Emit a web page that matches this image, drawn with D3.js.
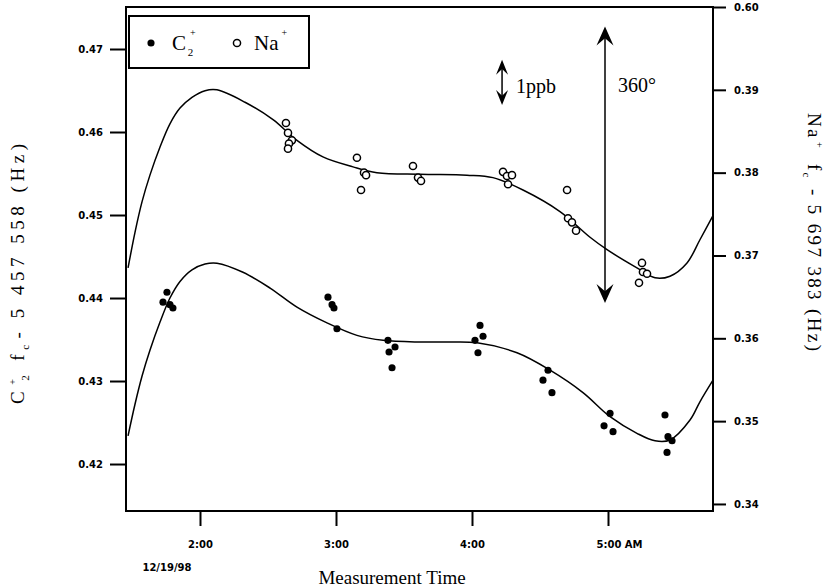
<!DOCTYPE html>
<html>
<head>
<meta charset="utf-8">
<script src="https://cdn.jsdelivr.net/npm/d3@7"></script>
<style>
body { margin: 0; background: #fff; }
.tick text { font-family: "DejaVu Sans", sans-serif; font-weight: bold; font-size: 10px; fill: #000; }
.serif { font-family: "Liberation Serif", "Times New Roman", serif; fill: #000; }
</style>
</head>
<body>
<div id="chart"></div>
<script>
// ---- data ----
const hourTicks  = [2, 3, 4, 5];
const hourLabels = ["2:00", "3:00", "4:00", "5:00 AM"];
const leftTicks  = [0.42, 0.43, 0.44, 0.45, 0.46, 0.47];
const rightTicks = [0.34, 0.35, 0.36, 0.37, 0.38, 0.39, 0.40];
const rightTickLabels = ["0.34", "0.35", "0.36", "0.37", "0.38", "0.39", "0.60"];

// C2+ points (left axis)
const c2Time = [1.757, 1.728, 1.779, 1.801, 2.941, 2.971, 2.985, 3.007,
                3.382, 3.434, 3.390, 3.412, 4.059, 4.081, 4.022, 4.044,
                4.559, 4.522, 4.588, 5.015, 4.971, 5.037, 5.419, 5.441, 5.471, 5.434];
const c2Freq = [0.4407, 0.4395, 0.4392, 0.4388, 0.4401, 0.4392, 0.4388, 0.4363,
                0.4349, 0.4341, 0.4335, 0.4316, 0.4367, 0.4354, 0.4349, 0.4334,
                0.4313, 0.4301, 0.4286, 0.4261, 0.4246, 0.4239, 0.4259, 0.4233, 0.4228, 0.4214];

// Na+ points (right axis)
const naTime = [2.632, 2.647, 2.676, 2.654, 2.647, 3.154, 3.206, 3.221, 3.184,
                3.566, 3.603, 3.625, 4.228, 4.257, 4.294, 4.265,
                4.699, 4.706, 4.735, 4.765, 5.250, 5.257, 5.287, 5.228];
const naFreq = [0.3860, 0.3848, 0.3839, 0.3835, 0.3829, 0.3818, 0.3800, 0.3797, 0.3779,
                0.3808, 0.3794, 0.3790, 0.3801, 0.3796, 0.3797, 0.3786,
                0.3779, 0.3745, 0.3740, 0.3730, 0.3691, 0.3680, 0.3678, 0.3667];

// fitted curves
const c2FitTime = [1.471, 1.522, 1.574, 1.632, 1.706, 1.779, 1.853, 1.941, 2.037, 2.125, 2.316, 2.515, 2.713, 2.934,
                   3.154, 3.346, 3.618, 3.838, 4.037, 4.331, 4.574, 4.816, 5.015, 5.213, 5.346, 5.456, 5.603, 5.676, 5.772];
const c2Fit     = [0.4234, 0.4272, 0.4306, 0.4337, 0.4371, 0.4400, 0.4420, 0.4434, 0.4441, 0.4442, 0.4431, 0.4412, 0.4389, 0.4370,
                   0.4355, 0.4349, 0.4347, 0.4347, 0.4346, 0.4334, 0.4313, 0.4286, 0.4257, 0.4237, 0.4228, 0.4229, 0.4253, 0.4275, 0.4301];
const naFitTime = [1.471, 1.522, 1.574, 1.632, 1.706, 1.779, 1.853, 1.941, 2.037, 2.125, 2.331, 2.537, 2.713, 2.904,
                   3.125, 3.301, 3.618, 3.963, 4.154, 4.375, 4.647, 4.868, 4.993, 5.213, 5.346, 5.456, 5.581, 5.676, 5.772];
const naFit     = [0.3685, 0.3728, 0.3765, 0.3797, 0.3831, 0.3859, 0.3878, 0.3891, 0.3899, 0.3900, 0.3885, 0.3864, 0.3839, 0.3819,
                   0.3807, 0.3800, 0.3798, 0.3797, 0.3794, 0.3779, 0.3753, 0.3722, 0.3707, 0.3685, 0.3673, 0.3675, 0.3691, 0.3719, 0.3748];

// annotation arrows (left axis units)
const c2Carrier = 5457558;            // Hz
const ppbTime = 4.221, ppbTop = 0.4687;
const phaseTime = 4.978, phaseRange = [0.4727, 0.4394];

// ---- layout ----
const W = 824, H = 588;
const box = { l: 126, r: 713, t: 7, b: 511 };

const svg = d3.select('#chart').append('svg').attr('width', W).attr('height', H);
svg.append('rect').attr('width', W).attr('height', H).attr('fill', '#fff');

const x  = d3.scaleLinear().domain([1.4559, 5.7721]).range([box.l, box.r]);
const yL = d3.scaleLinear().domain([0.41434, 0.47506]).range([box.b, box.t]);
const yR = d3.scaleLinear().domain([0.33915, 0.40]).range([box.b, box.t]);

// axes
function styleAxis(g) {
  g.select('.domain').remove();
  g.selectAll('.tick line').attr('stroke', '#000').attr('stroke-width', 2);
}
svg.append('g').attr('transform', `translate(${box.l},0)`)
  .call(d3.axisLeft(yL).tickValues(leftTicks).tickSize(16).tickPadding(7).tickFormat(d3.format('.2f')))
  .call(styleAxis);
svg.append('g').attr('transform', `translate(${box.r},0)`)
  .call(d3.axisRight(yR).tickValues(rightTicks).tickSize(13).tickPadding(8)
    .tickFormat((d, i) => rightTickLabels[i]))
  .call(styleAxis);
svg.append('g').attr('transform', `translate(0,${box.b})`)
  .call(d3.axisBottom(x).tickValues(hourTicks).tickSize(15).tickPadding(15)
    .tickFormat((d, i) => hourLabels[i]))
  .call(styleAxis)
  .call(g => g.selectAll('.tick text').attr('dx', (d, i) => i == 3 ? 11 : 0));

svg.append('rect')
  .attr('x', box.l).attr('y', box.t).attr('width', box.r - box.l).attr('height', box.b - box.t)
  .attr('fill', 'none').attr('stroke', '#000').attr('stroke-width', 2);

svg.append('text')
  .attr('x', x(hourTicks[0]) - 33).attr('y', 571).attr('text-anchor', 'middle')
  .style('font-family', '"DejaVu Sans", sans-serif').style('font-weight', 'bold').style('font-size', '10px')
  .text('12/19/98');

svg.append('text').attr('class', 'serif')
  .attr('x', 392).attr('y', 584).attr('text-anchor', 'middle')
  .style('font-size', '19px').text('Measurement Time');

// rich text helper: parts = [text, size, dx, dy]
function rich(g, parts, size) {
  const t = g.append('text').attr('class', 'serif').attr('text-anchor', 'middle').style('font-size', size + 'px');
  parts.forEach(p => t.append('tspan').text(p[0]).style('font-size', (p[1] || size) + 'px')
    .attr('dx', p[2] || 0).attr('dy', p[3] || 0));
  return t;
}

// axis titles
rich(svg.append('g').attr('transform', 'translate(24,274) rotate(-90)'), [
  ['C'], ['+', 10, 2, -8], ['2', 11, -6, 13], ['f', 19, 10, -5], ['c', 11, 0, 5], ['- 5 457 558 (Hz)', 19, 2, -5]
], 19).attr('textLength', 260).attr('lengthAdjust', 'spacing');

rich(svg.append('g').attr('transform', 'translate(808,232) rotate(90)'), [
  ['Na'], ['+', 10, 2, -8], ['f', 19, 14, 8], ['c', 11, 0, 5], [' - 5 697 383 (Hz)', 19, 2, -5]
], 19).attr('textLength', 238).attr('lengthAdjust', 'spacing');

// fitted curves
const line = (sx, sy) => d3.line().x(d => sx(d[0])).y(d => sy(d[1])).curve(d3.curveCatmullRom.alpha(0.5));
svg.append('path').datum(naFitTime.map((t, i) => [t, naFit[i]]))
  .attr('d', line(x, yR)).attr('fill', 'none').attr('stroke', '#000').attr('stroke-width', 1.5);
svg.append('path').datum(c2FitTime.map((t, i) => [t, c2Fit[i]]))
  .attr('d', line(x, yL)).attr('fill', 'none').attr('stroke', '#000').attr('stroke-width', 1.5);

// points
const filled = d3.symbol(d3.symbolCircle, 40);
const open   = d3.symbol(d3.symbolCircle, 40);
svg.append('g').selectAll('path').data(c2Time).join('path')
  .attr('transform', (t, i) => `translate(${x(t)},${yL(c2Freq[i])})`)
  .attr('d', filled).attr('fill', '#000');
svg.append('g').selectAll('path').data(naTime).join('path')
  .attr('transform', (t, i) => `translate(${x(t)},${yR(naFreq[i])})`)
  .attr('d', open).attr('fill', '#fff').attr('stroke', '#000').attr('stroke-width', 1.5);

// double arrows
function head(px, py, dir, w, l) {
  return `M${px},${py} L${px - w / 2},${py + dir * l} L${px},${py + dir * l * 0.62} L${px + w / 2},${py + dir * l} Z`;
}
function dblArrow(t, v0, v1, w, l) {
  const px = x(t), p0 = yL(v0), p1 = yL(v1);
  const g = svg.append('g');
  g.append('line').attr('x1', px).attr('x2', px).attr('y1', p0 + l * 0.5).attr('y2', p1 - l * 0.5)
    .attr('stroke', '#000').attr('stroke-width', 1.5);
  g.append('path').attr('d', head(px, p0, 1, w, l)).attr('fill', '#000');
  g.append('path').attr('d', head(px, p1, -1, w, l)).attr('fill', '#000');
}
dblArrow(ppbTime, ppbTop, ppbTop - c2Carrier * 1e-9, 12, 15);
dblArrow(phaseTime, phaseRange[0], phaseRange[1], 17, 19);

svg.append('text').attr('class', 'serif').attr('x', x(ppbTime) + 14).attr('y', 93)
  .style('font-size', '20px').text('1ppb');
svg.append('text').attr('class', 'serif').attr('x', x(phaseTime) + 13).attr('y', 92)
  .style('font-size', '20px').text('360°');

// legend
const lg = svg.append('g');
lg.append('rect').attr('x', 129).attr('y', 16).attr('width', 180).attr('height', 52)
  .attr('fill', '#fff').attr('stroke', '#000').attr('stroke-width', 2);
lg.append('path').attr('transform', 'translate(151,43)').attr('d', filled).attr('fill', '#000');
lg.append('path').attr('transform', 'translate(237,43)').attr('d', open)
  .attr('fill', '#fff').attr('stroke', '#000').attr('stroke-width', 1.5);
const lt1 = lg.append('text').attr('class', 'serif').attr('x', 172).attr('y', 50).style('font-size', '21px');
lt1.append('tspan').text('C');
lt1.append('tspan').text('+').style('font-size', '10px').attr('dx', 4).attr('dy', -14);
lt1.append('tspan').text('2').style('font-size', '11px').attr('dx', -8).attr('dy', 20);
const lt2 = lg.append('text').attr('class', 'serif').attr('x', 254).attr('y', 50).style('font-size', '21px');
lt2.append('tspan').text('Na');
lt2.append('tspan').text('+').style('font-size', '10px').attr('dx', 3).attr('dy', -14);
</script>
</body>
</html>
